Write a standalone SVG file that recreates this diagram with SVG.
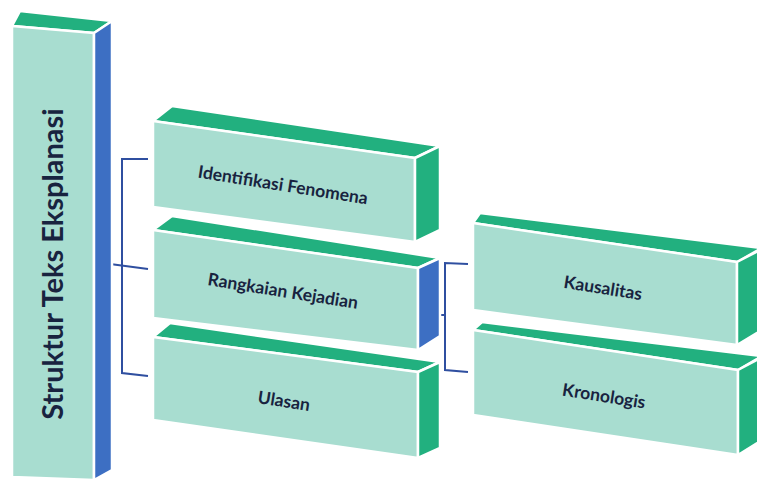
<svg xmlns="http://www.w3.org/2000/svg" width="757" height="484" viewBox="0 0 757 484">
<style>
.front{fill:#a8ddd0;stroke:#ffffff;stroke-width:2.5;stroke-linejoin:round}
.top{fill:#22b07f;stroke:#ffffff;stroke-width:2.5;stroke-linejoin:round}
.sideG{fill:#22b07f;stroke:#ffffff;stroke-width:2.5;stroke-linejoin:round}
.sideB{fill:#3d6fc3;stroke:#ffffff;stroke-width:2.5;stroke-linejoin:round}
.lbl{font-family:Lato,"Open Sans","DejaVu Sans",sans-serif;font-weight:bold;fill:#18233f;text-anchor:middle}
.conn{fill:none;stroke:#2f4fa0;stroke-width:2}
</style>
<rect width="757" height="484" fill="#ffffff"/>
<g id="connectors">
<path class="conn" d="M148,159 L122,159 L122,373 L148,376"/>
<path class="conn" d="M95,262 L148,269"/>
<path class="conn" d="M468,264 L445,263 L445,370 L468,372"/>
<path class="conn" d="M440,315 L445,315"/>
</g>
<g id="struktur">
<polygon class="top" points="12,26 20,11 112,21 94,33"/>
<polygon class="front" points="12,26 94,33 94,480 12,477"/>
<polygon class="sideB" points="94,33 112,21 112,470 94,480"/>
<text class="lbl" font-size="29" transform="translate(63,264) rotate(-90)">Struktur Teks Eksplanasi</text>
</g>
<g id="identifikasi">
<polygon class="top" points="153,121 172,106 440,146 415,158"/>
<polygon class="front" points="153,121 415,158 415,242 153,207"/>
<polygon class="sideG" points="415,158 440,146 440,230 415,242"/>
<text class="lbl" font-size="17.5" transform="translate(282,191) rotate(9)">Identifikasi Fenomena</text>
</g>
<g id="rangkaian">
<polygon class="top" points="153,230 172,216 440,258 418,268"/>
<polygon class="front" points="153,230 418,268 418,350 153,318"/>
<polygon class="sideB" points="418,268 440,258 440,336 418,350"/>
<text class="lbl" font-size="17.5" transform="translate(282,297) rotate(9)">Rangkaian Kejadian</text>
</g>
<g id="ulasan">
<polygon class="top" points="153,337 170,323 440,362 418,372"/>
<polygon class="front" points="153,337 418,372 418,458 153,420"/>
<polygon class="sideG" points="418,372 440,362 440,448 418,458"/>
<text class="lbl" font-size="17.5" transform="translate(283,407) rotate(9)">Ulasan</text>
</g>
<g id="kausalitas">
<polygon class="top" points="473,223 480,213 762,248 737,262"/>
<polygon class="front" points="473,223 737,262 737,345 473,310"/>
<polygon class="sideG" points="737,262 762,249 762,330 737,345"/>
<text class="lbl" font-size="17.5" transform="translate(602,294) rotate(9)">Kausalitas</text>
</g>
<g id="kronologis">
<polygon class="top" points="473,330 482,322 762,356 738,370"/>
<polygon class="front" points="473,330 738,370 738,455 473,415"/>
<polygon class="sideG" points="738,370 762,357 762,440 738,455"/>
<text class="lbl" font-size="17.5" transform="translate(603,402) rotate(9)">Kronologis</text>
</g>
</svg>
